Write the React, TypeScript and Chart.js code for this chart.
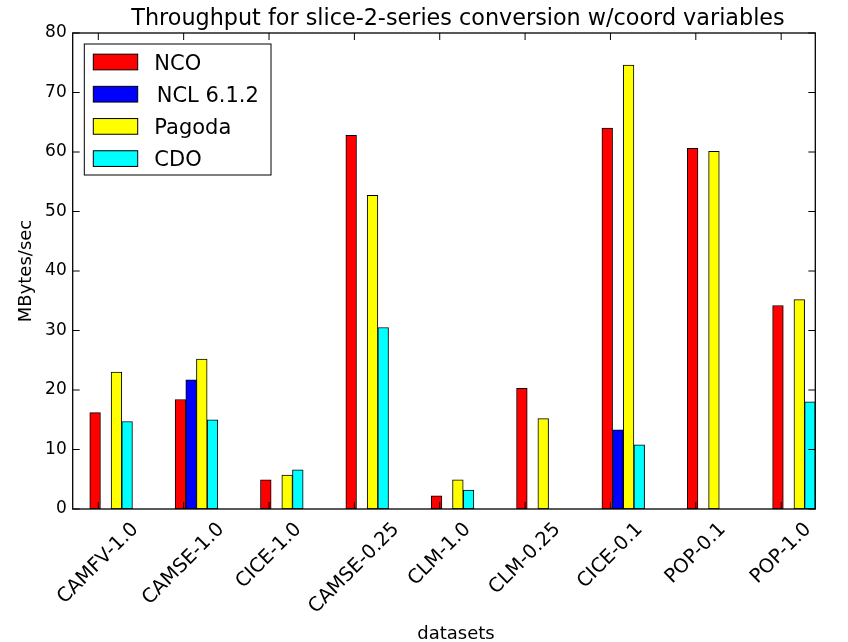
import React, { useEffect, useRef } from 'react';
import { Chart, registerables } from 'chart.js';

Chart.register(...registerables);

// ---- data ----
const CATEGORIES = ['CAMFV-1.0', 'CAMSE-1.0', 'CICE-1.0', 'CAMSE-0.25', 'CLM-1.0', 'CLM-0.25', 'CICE-0.1', 'POP-0.1', 'POP-1.0'];
const SERIES_LABELS = ['NCO', 'NCL 6.1.2', 'Pagoda', 'CDO'];
const NCO = [16.2, 18.4, 4.9, 62.8, 2.2, 20.3, 64.0, 60.6, 34.2];
const NCL = [0, 21.7, 0, 0, 0, 0, 13.3, 0, 0];
const PAGODA = [23.0, 25.2, 5.7, 52.7, 4.9, 15.2, 74.6, 60.1, 35.2];
const CDO = [14.7, 15.0, 6.6, 30.5, 3.2, 0, 10.8, 0, 18.0];
const Y_TICKS = [0, 10, 20, 30, 40, 50, 60, 70, 80];

const TITLE = 'Throughput for slice-2-series conversion w/coord variables';
const X_TITLE = 'datasets';
const Y_TITLE = 'MBytes/sec';

// ---- styling ----
const COLORS = ['#ff0000', '#0000ff', '#ffff00', '#00ffff'];
const BAR_W = 0.125;
const TICK_OFFSET = 0.1;
const FONT = "'DejaVu Sans', 'Liberation Sans', sans-serif";
const TICK_LEN = 7;

const decor = {
  id: 'decor',
  afterDraw(chart: any) {
    const ctx: CanvasRenderingContext2D = chart.ctx;
    const { left, right, top, bottom } = chart.chartArea;
    const xs = chart.scales.x;
    const ys = chart.scales.y;
    ctx.save();
    ctx.strokeStyle = '#000';
    ctx.fillStyle = '#000';
    ctx.lineWidth = 1;
    // inward ticks
    ctx.beginPath();
    ys.ticks.forEach((t: any) => {
      const y = ys.getPixelForValue(t.value);
      ctx.moveTo(left, y); ctx.lineTo(left + TICK_LEN, y);
      ctx.moveTo(right, y); ctx.lineTo(right - TICK_LEN, y);
    });
    xs.ticks.forEach((t: any) => {
      const x = xs.getPixelForValue(t.value);
      ctx.moveTo(x, bottom); ctx.lineTo(x, bottom - TICK_LEN);
      ctx.moveTo(x, top); ctx.lineTo(x, top + TICK_LEN);
    });
    ctx.stroke();
    // frame
    ctx.lineWidth = 1.3;
    ctx.strokeRect(left, top, right - left, bottom - top);

    // x tick labels, rotated 45 deg, centred on tick
    const fs = 19.5;
    ctx.font = `${fs}px ${FONT}`;
    ctx.textAlign = 'center';
    ctx.textBaseline = 'alphabetic';
    xs.ticks.forEach((t: any, i: number) => {
      const label = CATEGORIES[i];
      const x = xs.getPixelForValue(t.value) - 1.5;
      const L = ctx.measureText(label).width;
      const h = fs * 1.0;
      const half = (L + h) / (2 * Math.SQRT2);
      ctx.save();
      ctx.translate(x, bottom + 9 + half);
      ctx.rotate(-Math.PI / 4);
      ctx.fillText(label, 0, 0.36 * fs);
      ctx.restore();
    });

    // x title
    ctx.font = `18px ${FONT}`;
    ctx.fillText(X_TITLE, (left + right) / 2 + 12, bottom + 129.5);

    // title
    ctx.font = `22.3px ${FONT}`;
    ctx.fillText(TITLE, (left + right) / 2 + 14, top - 8);

    // legend
    const lx = left + 11.6;
    const ly = top + 11;
    ctx.fillStyle = '#fff';
    ctx.fillRect(lx, ly, 186.7, 131);
    ctx.lineWidth = 1;
    ctx.strokeStyle = '#000';
    ctx.strokeRect(lx, ly, 186.7, 131);
    ctx.textAlign = 'left';
    ctx.font = `21px ${FONT}`;
    chart.data.datasets.forEach((ds: any, k: number) => {
      const cy = ly + 18 + 32.2 * k;
      ctx.fillStyle = ds.backgroundColor;
      ctx.fillRect(lx + 9, cy - 7.85, 44.4, 15.7);
      ctx.strokeStyle = '#000';
      ctx.strokeRect(lx + 9, cy - 7.85, 44.4, 15.7);
      ctx.fillStyle = '#000';
      ctx.fillText(ds.label, lx + 70 + (k === 1 ? 2.4 : 0), cy + 7.6);
    });
    ctx.restore();
  },
};

export default function App() {
  const ref = useRef<HTMLCanvasElement>(null);
  useEffect(() => {
    const canvas = ref.current!;
    const series = [NCO, NCL, PAGODA, CDO];
    const datasets = series.map((vals, k) => ({
      label: SERIES_LABELS[k],
      data: vals.map((v, i) => ({ x: i + BAR_W * k + BAR_W / 2, y: v })),
      backgroundColor: COLORS[k],
      borderColor: '#000',
      borderWidth: 1,
      borderSkipped: false as const,
      grouped: false,
      categoryPercentage: 1,
      barPercentage: 1,
    }));
    const chart = new Chart(canvas, {
      type: 'bar',
      data: { datasets },
      options: {
        responsive: false,
        animation: false,
        devicePixelRatio: 1,
        layout: { padding: { top: 33, right: 32.7, left: 0, bottom: 0 } },
        plugins: {
          legend: { display: false },
          tooltip: { enabled: false },
          title: { display: false },
        },
        scales: {
          x: {
            type: 'linear',
            offset: false,
            min: -0.2,
            max: 8.5,
            afterBuildTicks: (scale: any) => {
              scale.ticks = CATEGORIES.map((_, i) => ({ value: i + TICK_OFFSET }));
            },
            afterFit: (scale: any) => { scale.height = 133; },
            ticks: { display: false },
            grid: { display: false, drawTicks: false, offset: false },
            border: { display: false },
          },
          y: {
            type: 'linear',
            min: 0,
            max: 80,
            afterBuildTicks: (scale: any) => {
              scale.ticks = Y_TICKS.map((v) => ({ value: v }));
            },
            afterFit: (scale: any) => { scale.width = 72.7; },
            ticks: {
              color: '#000',
              font: { family: FONT, size: 17 },
              padding: 6,
              callback: (v: any) => String(v),
            },
            grid: { display: false, drawTicks: false },
            border: { display: false },
            title: {
              display: true,
              text: Y_TITLE,
              color: '#000',
              font: { family: FONT, size: 18 },
              padding: { top: 16, bottom: 0 },
            },
          },
        },
      },
      plugins: [decor],
    });
    return () => chart.destroy();
  }, []);
  return (
    <div style={{ position: 'absolute', left: 0, top: 0, width: 848, height: 642, background: '#fff' }}>
      <canvas ref={ref} width={848} height={642} style={{ display: 'block' }} />
    </div>
  );
}
